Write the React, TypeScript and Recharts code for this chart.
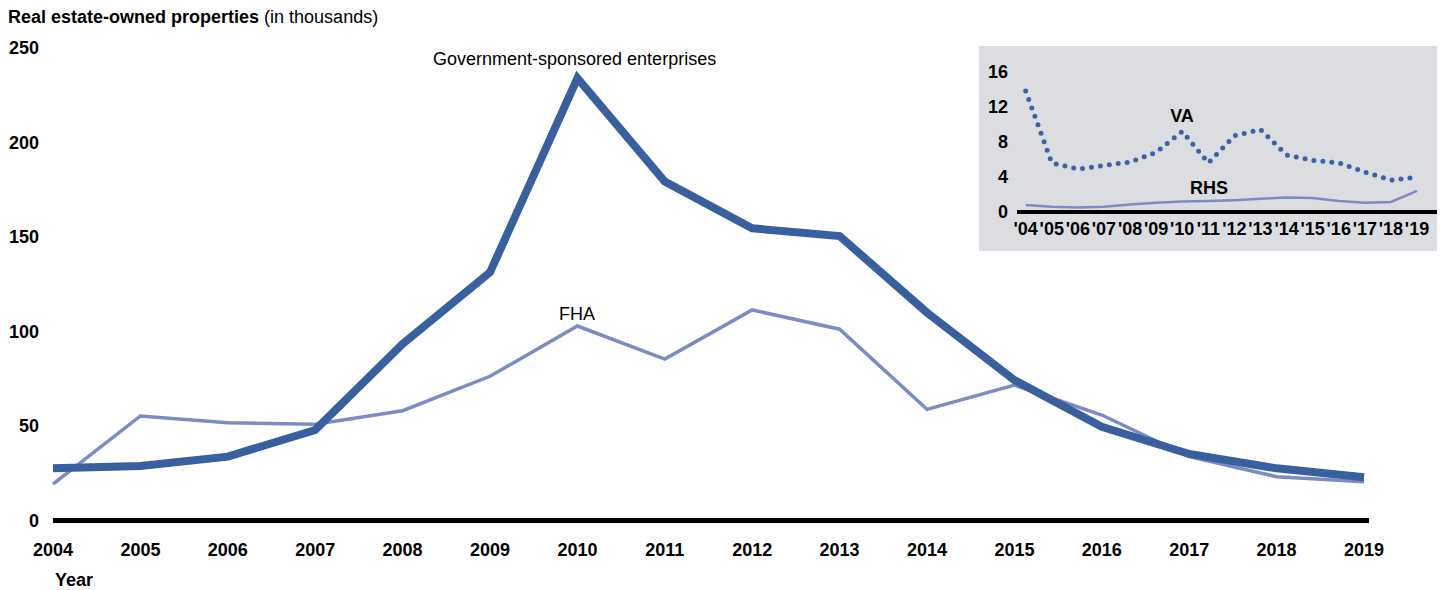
import React from "react";
import { LineChart, Line, XAxis, YAxis } from "recharts";

const FONT = "'Liberation Sans', Arial, sans-serif";

// main chart (thousands of REO properties)
const years = [2004, 2005, 2006, 2007, 2008, 2009, 2010, 2011, 2012, 2013, 2014, 2015, 2016, 2017, 2018, 2019];
const gseValues = [27.6, 28.8, 33.8, 47.9, 93.4, 131.3, 234, 179.3, 154.6, 150.5, 110, 74.3, 49.6, 35.2, 27.6, 22.9];
const fhaValues = [19.3, 55.3, 51.7, 50.9, 58.1, 76.3, 102.9, 85.4, 111.4, 101.2, 58.8, 71.7, 55.8, 33.8, 23.2, 20.5];
const mainYTicks = [0, 50, 100, 150, 200, 250];

// inset (VA / RHS)
const insetLabels = ["'04", "'05", "'06", "'07", "'08", "'09", "'10", "'11", "'12", "'13", "'14", "'15", "'16", "'17", "'18", "'19"];
const vaValues = [13.8, 5.6, 4.9, 5.3, 5.7, 6.8, 9.2, 5.6, 8.7, 9.4, 6.5, 5.9, 5.6, 4.55, 3.65, 3.95];
const rhsValues = [0.8, 0.6, 0.5, 0.6, 0.85, 1.05, 1.2, 1.25, 1.35, 1.5, 1.65, 1.6, 1.25, 1.05, 1.15, 2.4];
const insetYTicks = [0, 4, 8, 12, 16];

const mainData = years.map((year, i) => ({ year, gse: gseValues[i], fha: fhaValues[i] }));
const insetData = years.map((year, i) => ({ year, va: vaValues[i], rhs: rhsValues[i] }));

const GSE_COLOR = "#38609f";
const FHA_COLOR = "#7a8cc3";
const VA_COLOR = "#3a62a8";

const boldTick = { fontFamily: FONT, fontSize: 18, fontWeight: 700, fill: "#000" };
const plainText = { fontFamily: FONT, fontSize: 18, fill: "#000" };

export default function App() {
  return (
    <div style={{ position: "absolute", left: 0, top: 0, width: 1440, height: 590, background: "#fff", fontFamily: FONT }}>
      <LineChart width={1440} height={590} data={mainData}
        margin={{ top: 48, right: 71, bottom: 39.5, left: 8 }}>
        <XAxis dataKey="year" type="number" domain={[2004, 2019.057]} ticks={years} interval={0}
          height={30} axisLine={{ stroke: "#000", strokeWidth: 5 }} tickLine={false}
          tick={(p: any) => (
            <text x={p.x} y={556} textAnchor="middle" style={boldTick}>{p.payload.value}</text>
          )} />
        <YAxis width={45} domain={[0, 250]} ticks={mainYTicks} axisLine={false} tickLine={false}
          tick={(p: any) => (
            <text x={39} y={p.y} dy="0.355em" textAnchor="end" style={boldTick}>{p.payload.value}</text>
          )} />
        <Line dataKey="fha" type="linear" stroke={FHA_COLOR} strokeWidth={3.5} dot={false} isAnimationActive={false} />
        <Line dataKey="gse" type="linear" stroke={GSE_COLOR} strokeWidth={8} dot={false} isAnimationActive={false} />
        <text x={8} y={23} style={plainText}>
          <tspan fontWeight={700}>Real estate-owned properties</tspan>
          <tspan> (in thousands)</tspan>
        </text>
        <text x={433} y={65} style={plainText}>Government-sponsored enterprises</text>
        <text x={577} y={320} textAnchor="middle" style={plainText}>FHA</text>
        <text x={55} y={586} style={boldTick}>Year</text>
      </LineChart>

      <div style={{ position: "absolute", left: 979, top: 46, width: 458, height: 205, background: "#dcdde0" }}>
        <LineChart width={458} height={205} data={insetData}
          margin={{ top: 25.7, right: 0, bottom: 9, left: 8 }}>
          <XAxis dataKey="year" type="number" domain={[2003.667, 2019.766]} ticks={years} interval={0}
            height={30} axisLine={{ stroke: "#000", strokeWidth: 4 }} tickLine={false}
            tick={(p: any) => (
              <text x={p.x} y={189} textAnchor="middle" style={boldTick}>{insetLabels[years.indexOf(p.payload.value)]}</text>
            )} />
          <YAxis width={30} domain={[0, 16]} ticks={insetYTicks} axisLine={false} tickLine={false}
            tick={(p: any) => (
              <text x={29} y={p.y} dy="0.355em" textAnchor="end" style={boldTick}>{p.payload.value}</text>
            )} />
          <Line dataKey="rhs" type="linear" stroke={FHA_COLOR} strokeWidth={2.5} dot={false} isAnimationActive={false} />
          <Line dataKey="va" type="linear" stroke={VA_COLOR} strokeWidth={5} strokeDasharray="0 9"
            strokeLinecap="round" dot={false} isAnimationActive={false} />
          <text x={203} y={76} textAnchor="middle" style={boldTick}>VA</text>
          <text x={230} y={148} textAnchor="middle" style={boldTick}>RHS</text>
        </LineChart>
      </div>
    </div>
  );
}
